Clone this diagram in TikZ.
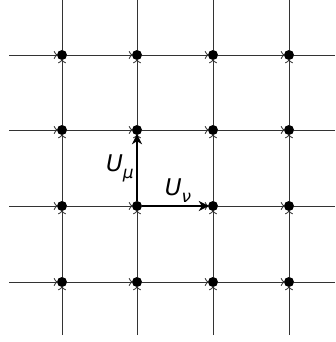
\documentclass[tikz,border=0pt]{standalone}
\usepackage{fontspec}
\newfontfamily\lblfont{DejaVu Sans}
\usetikzlibrary{arrows.meta}
\tikzstyle{site} = [circle,fill=black,inner sep=0pt,minimum size=10pt]
\tikzstyle{link} = [draw=black!80,line width=0.8pt,shorten >=-1pt,-{To[length=4pt,width=8pt]}]
\tikzstyle{linkout} = [draw=black!80,line width=0.8pt]
\tikzstyle{gauge} = [line width=2.6pt,shorten >=-1pt,-{Stealth[length=10pt,width=10pt,inset=3pt]}]
\newcommand{\linklabel}[1]{{\lblfont\itshape\fontsize{23}{24}\selectfont U\raisebox{-0.3em}{\fontsize{17}{17}\selectfont #1}}}

\begin{document}
\begin{tikzpicture}[x=1pt,y=1pt,yscale=-1]
\useasboundingbox (0,0) rectangle (336,342);

% sites
\foreach \i/\x in {1/62,2/137,3/213,4/289}
  \foreach \j/\y in {1/55,2/130,3/206,4/282}
    \node[site] (s\i\j) at (\x,\y) {};

% free ends of the lines
\foreach \j/\y in {1/55,2/130,3/206,4/282} {
  \coordinate (w\j) at (9,\y);
  \coordinate (e\j) at (335,\y);
}
\foreach \i/\x in {1/62,2/137,3/213,4/289} {
  \coordinate (n\i) at (\x,0);
  \coordinate (b\i) at (\x,335);
}

% horizontal links
\foreach \j in {1,2,3,4} {
  \draw[link] (w\j) -- (s1\j);
  \draw[link] (s1\j) -- (s2\j);
  \draw[link] (s2\j) -- (s3\j);
  \draw[link] (s3\j) -- (s4\j);
  \draw[linkout] (s4\j) -- (e\j);
}

% vertical links
\foreach \i in {1,2,3,4} {
  \draw[link] (b\i) -- (s\i4);
  \draw[link] (s\i4) -- (s\i3);
  \draw[link] (s\i3) -- (s\i2);
  \draw[link] (s\i2) -- (s\i1);
  \draw[linkout] (s\i1) -- (n\i);
}

% gauge links
\draw[gauge] (s23) -- (s22);
\draw[gauge] (s23) -- (s33);
\node[anchor=east,inner sep=0pt] (umu) at (134,168) {\linklabel{μ}};
\node[anchor=south,inner sep=0pt] (unu) at (178,203) {\linklabel{ν}};

\end{tikzpicture}
\end{document}
